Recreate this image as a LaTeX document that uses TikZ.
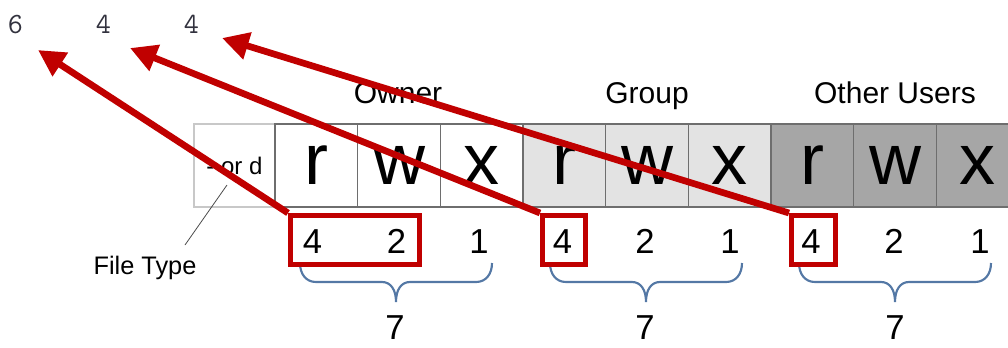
\documentclass[tikz,border=0pt]{standalone}
\usepackage{fontspec}
\setmainfont{Liberation Sans}
\usetikzlibrary{arrows.meta}
\definecolor{permred}{RGB}{192,0,0}
\definecolor{bracecol}{RGB}{84,120,165}
\definecolor{grpgray}{RGB}{227,227,227}
\definecolor{othgray}{RGB}{166,166,166}
\definecolor{cellborder}{RGB}{110,110,110}
\definecolor{ftborder}{RGB}{200,200,200}
\definecolor{numgray}{RGB}{50,50,62}
\begin{document}
\begin{tikzpicture}[x=0.75pt,y=-0.75pt,
  cell/.style={draw=cellborder, line width=1.1pt, minimum width=62pt, minimum height=62.25pt, inner sep=0pt, font=\fontsize{54}{54}\selectfont},
  ftcell/.style={draw=ftborder, line width=1pt, minimum width=60.75pt, minimum height=62.25pt, inner sep=0pt, font=\fontsize{18}{18}\selectfont},
  grplabel/.style={anchor=base, inner sep=0pt, font=\fontsize{22.5}{22.5}\selectfont},
  bitnum/.style={anchor=base, inner sep=0pt, font=\fontsize{26}{26}\selectfont},
  octnum/.style={anchor=base, inner sep=0pt, text=numgray, font=\ttfamily\fontsize{22}{22}\selectfont},
  redbox/.style={draw=permred, line width=3.75pt, inner sep=0pt, minimum height=36.75pt},
  permarrow/.style={draw=permred, line width=5pt, -{Triangle[length=20pt,width=20pt]}},
  ftline/.style={draw=black!70, line width=0.6pt},
  permbrace/.pic={\draw[bracecol, line width=1.6pt]
     (-96,-39) .. controls (-96,-28) and (-90,-20) .. (-80,-20) -- (-14,-20)
     .. controls (-5,-20) and (0,-12) .. (0,0)
     .. controls (0,-12) and (5,-20) .. (14,-20) -- (80,-20)
     .. controls (90,-20) and (96,-28) .. (96,-39);}
]
\useasboundingbox (0,0) rectangle (1008,347);
\clip (0,0) rectangle (1008,347);

% permission cells
\node[ftcell] (ft) at (234.5,165.5) {- or d};
\node[cell, fill=white] (or) at (316.3,165.5) {r};
\node[cell, fill=white] (ow) at (399,165.5) {w};
\node[cell, fill=white] (ox) at (481.7,165.5) {x};
\node[cell, fill=grpgray] (gr) at (564.3,165.5) {r};
\node[cell, fill=grpgray] (gw) at (647,165.5) {w};
\node[cell, fill=grpgray] (gx) at (729.7,165.5) {x};
\node[cell, fill=othgray] (ur) at (812.3,165.5) {r};
\node[cell, fill=othgray] (uw) at (895,165.5) {w};
\node[cell, fill=othgray] (ux) at (977.7,165.5) {x};

% group labels
\node[grplabel] (lowner) at (398,103) {Owner};
\node[grplabel] (lgroup) at (647,103) {Group};
\node[grplabel] (lother) at (895,103) {Other Users};

% file type
\node[anchor=base, inner sep=0pt, font=\fontsize{19}{19}\selectfont] (ftl) at (145,274) {File Type};
\coordinate (ftA) at (185,245);
\coordinate (ftB) at (227,185);
\draw[ftline] (ftA) -- (ftB);

% bit values
\node[bitnum] (o4) at (312.5,253) {4};
\node[bitnum] (o2) at (396.5,253) {2};
\node[bitnum] (o1) at (479,253) {1};
\node[bitnum] (g4) at (562.5,253) {4};
\node[bitnum] (g2) at (645,253) {2};
\node[bitnum] (g1) at (730,253) {1};
\node[bitnum] (u4) at (811,253) {4};
\node[bitnum] (u2) at (894,253) {2};
\node[bitnum] (u1) at (980,253) {1};

% braces and sums
\pic (bo) at (396,302) {permbrace};
\pic (bg) at (646,302) {permbrace};
\pic (bu) at (895,302) {permbrace};
\node[bitnum] (s1) at (395,339) {7};
\node[bitnum] (s2) at (645,339) {7};
\node[bitnum] (s3) at (895,339) {7};

% red boxes
\node[redbox, minimum width=96.75pt] (ob) at (355,240) {};
\node[redbox, minimum width=32.25pt] (gb) at (564,240) {};
\node[redbox, minimum width=33pt] (ub) at (813.5,240) {};

% octal digits
\node[octnum] (d1) at (15.5,33) {6};
\node[octnum] (d2) at (103.5,33) {4};
\node[octnum] (d3) at (191.5,33) {4};
\coordinate (t1) at (38,50);
\coordinate (t2) at (130,48);
\coordinate (t3) at (222,38);

% arrows
\draw[permarrow] (ob.north west) -- (t1);
\draw[permarrow] (gb.north west) -- (t2);
\draw[permarrow] (ub.north west) -- (t3);
\end{tikzpicture}
\end{document}
